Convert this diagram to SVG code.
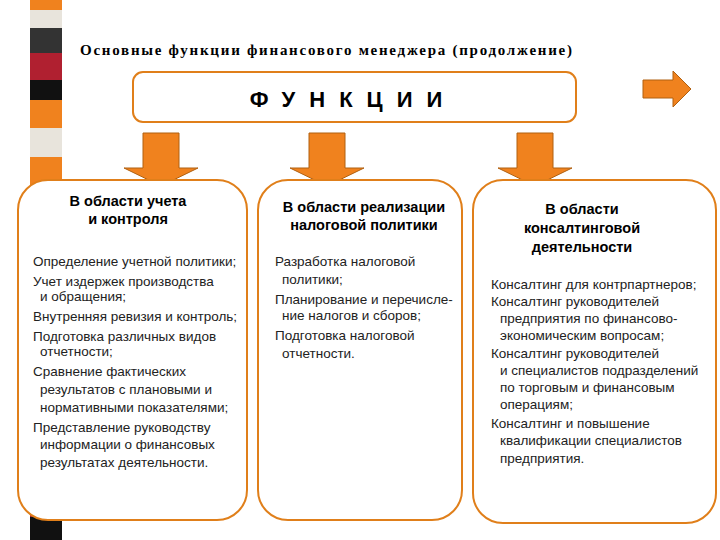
<svg xmlns="http://www.w3.org/2000/svg" width="720" height="540" viewBox="0 0 720 540">
<style>
.box{fill:#fff;stroke:#E07F1A;stroke-width:2}
.arr{fill:#F0821E;stroke:#B06010;stroke-width:1}
text{font-family:"Liberation Sans",Arial,sans-serif;fill:#000}
.h{font-size:14.5px;font-weight:bold;text-anchor:middle}
.t{font-size:13.5px;fill:#222}
</style>
<rect width="720" height="540" fill="#fff"/>
<g id="strip">
<rect x="30" y="0" width="32" height="540" fill="#F0821E"/>
<rect x="30" y="10" width="32" height="18" fill="#E8E4DC"/>
<rect x="30" y="28" width="32" height="25" fill="#333"/>
<rect x="30" y="53" width="32" height="27" fill="#B02030"/>
<rect x="30" y="80" width="32" height="20" fill="#111"/>
<rect x="30" y="128" width="32" height="29" fill="#E8E4DC"/>
<rect x="30" y="505" width="32" height="12" fill="#B02030"/>
<rect x="30" y="517" width="32" height="23" fill="#111"/>
</g>
<text x="80" y="55" font-size="15" font-weight="bold" textLength="492" style="font-family:'Liberation Serif',serif">Основные функции финансового менеджера  (продолжение)</text>
<g id="functions">
<rect class="box" x="133" y="72" width="443" height="50" rx="10"/>
<text x="353" y="107" font-size="22" font-weight="bold" text-anchor="middle" letter-spacing="14">ФУНКЦИИ</text>
</g>
<g id="connectors">
<path class="arr" d="M143 133h36v35h19l-37 18l-37-18h19z"/>
<path class="arr" d="M309 133h36v35h19l-37 18l-37-18h19z"/>
<path class="arr" d="M517 133h36v35h19l-37 18l-37-18h19z"/>
<path class="arr" d="M643 80h30v-9l18 18l-18 18v-9h-30z"/>
</g>
<g id="box1">
<rect class="box" x="18" y="180" width="229" height="340" rx="30"/>
<text class="h"><tspan x="128" y="206">В области учета</tspan><tspan x="128" y="224">и контроля</tspan></text>
<text class="t"><tspan x="33" y="266">Определение учетной политики;</tspan><tspan x="33" y="286">Учет издержек производства</tspan><tspan x="40" y="301">и обращения;</tspan><tspan x="33" y="321">Внутренняя ревизия и контроль;</tspan><tspan x="33" y="341">Подготовка различных видов</tspan><tspan x="40" y="356">отчетности;</tspan><tspan x="33" y="376">Сравнение фактических</tspan><tspan x="40" y="394">результатов с плановыми и</tspan><tspan x="40" y="412">нормативными показателями;</tspan><tspan x="33" y="432">Представление руководству</tspan><tspan x="40" y="449">информации о финансовых</tspan><tspan x="40" y="467">результатах деятельности.</tspan></text>
</g>
<g id="box2">
<rect class="box" x="258" y="180" width="204" height="340" rx="30"/>
<text class="h"><tspan x="364" y="212">В области реализации</tspan><tspan x="364" y="230">налоговой политики</tspan></text>
<text class="t"><tspan x="275" y="266">Разработка налоговой</tspan><tspan x="282" y="284">политики;</tspan><tspan x="275" y="304">Планирование и перечисле-</tspan><tspan x="282" y="320">ние налогов и сборов;</tspan><tspan x="275" y="340">Подготовка налоговой</tspan><tspan x="282" y="358">отчетности.</tspan></text>
</g>
<g id="box3">
<rect class="box" x="473" y="180" width="243" height="343" rx="30"/>
<text class="h"><tspan x="582" y="214">В области</tspan><tspan x="582" y="233">консалтинговой</tspan><tspan x="582" y="252">деятельности</tspan></text>
<text class="t"><tspan x="491" y="289">Консалтинг для контрпартнеров;</tspan><tspan x="491" y="306">Консалтинг руководителей</tspan><tspan x="500" y="323">предприятия по финансово-</tspan><tspan x="500" y="340">экономическим вопросам;</tspan><tspan x="491" y="358">Консалтинг руководителей</tspan><tspan x="500" y="375">и специалистов подразделений</tspan><tspan x="500" y="392">по торговым и финансовым</tspan><tspan x="500" y="409">операциям;</tspan><tspan x="491" y="428">Консалтинг и повышение</tspan><tspan x="500" y="445">квалификации специалистов</tspan><tspan x="500" y="463">предприятия.</tspan></text>
</g>
</svg>
